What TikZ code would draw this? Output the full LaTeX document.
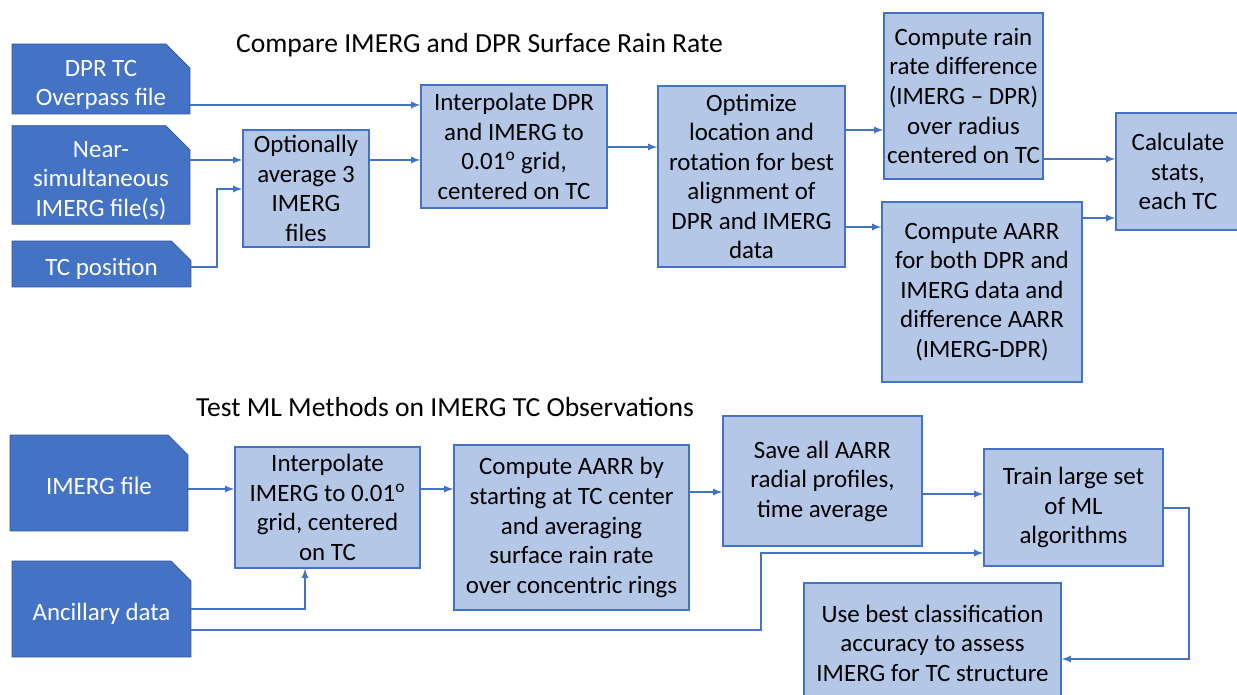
\documentclass[tikz,border=0pt]{standalone}
\usepackage{fontspec}
\setmainfont{Carlito}
\usetikzlibrary{shapes.misc}
\definecolor{4472c4}{HTML}{4472C4}
\definecolor{b4c7e7}{HTML}{B4C7E7}
\definecolor{2f5597}{HTML}{2F5597}
\newcommand{\dego}{\textsuperscript{o}}
\newcommand{\filelabel}[1]{\raisebox{-.12cm}[\dimexpr\height-4pt][\dimexpr\depth-4pt]{\begin{tabular}{@{}c@{}}#1\end{tabular}}}

\begin{document}
\begin{tikzpicture}[>=latex,x=0.02cm,y=-0.02cm,
    file/.style={chamfered rectangle,chamfered rectangle corners=north east,chamfered rectangle xsep=0.24cm,chamfered rectangle ysep=0.24cm,fill=4472c4,draw=2f5597,line width=.4pt,text=white,inner sep=0,font=\fontsize{14.2}{16.8}\selectfont},
    stepbox/.style={rectangle,fill=b4c7e7,draw=4472c4,line width=.8pt,inner sep=0,align=center,font=\fontsize{14.2}{16.8}\selectfont},
    title/.style={font=\fontsize{15.7}{18}\selectfont,inner sep=0},
    link/.style={->,4472c4,line width=.8pt}]
    \useasboundingbox(0,0)rectangle(1237,695);
    \clip(0,0)rectangle(1237,695);
    % compare IMERG and DPR
    \node[title](t1)at(479.5,45){Compare IMERG and DPR Surface Rain Rate};
    \node[file,minimum width=3.56cm,minimum height=1.4cm](dpr)at(101,79){\filelabel{DPR TC\\Overpass file}};
    \node[file,minimum width=3.56cm,minimum height=1.92cm](near)at(101,175){\filelabel{Near-\\simultaneous\\IMERG file(s)}};
    \node[file,minimum width=3.58cm,minimum height=.92cm](tcpos)at(101.5,264){\filelabel{TC position}};
    \node[stepbox,minimum width=2.52cm,minimum height=2.34cm](avg)at(306,188.5){Optionally\\average 3\\IMERG\\files};
    \node[stepbox,minimum width=3.72cm,minimum height=2.46cm](interp)at(514,146.5){Interpolate DPR\\and IMERG to\\0.01\dego{} grid,\\centered on TC};
    \node[stepbox,minimum width=3.74cm,minimum height=3.62cm](optim)at(751.5,176.5){Optimize\\location and\\rotation for best\\alignment of\\DPR and IMERG\\data};
    \node[stepbox,minimum width=3.18cm,minimum height=3.32cm](diff)at(963.5,96){Compute rain\\rate difference\\(IMERG -- DPR)\\over radius\\centered on TC};
    \node[stepbox,minimum width=4cm,minimum height=3.6cm](aarr)at(982,292){Compute AARR\\for both DPR and\\IMERG data and\\difference AARR\\(IMERG-DPR)};
    \node[stepbox,minimum width=2.48cm,minimum height=2.34cm](stats)at(1178,171.5){Calculate\\stats,\\each TC};
    \draw[link](dpr.east|-0,105)--(interp.west|-0,105);
    \draw[link](near.east|-0,160)--(avg.west|-0,160);
    \draw[link](tcpos.east|-0,267)-|(217,189)--(avg.west|-0,189);
    \draw[link](avg.east|-0,160)--(interp.west|-0,160);
    \draw[link](interp.east|-0,147)--(optim.west|-0,147);
    \draw[link](optim.east|-0,130)--(diff.west|-0,130);
    \draw[link](optim.east|-0,227)--(aarr.west|-0,227);
    \draw[link](diff.east|-0,159)--(stats.west|-0,159);
    \draw[link](aarr.east|-0,218)--(stats.west|-0,218);
    % test ML methods
    \node[title](t2)at(445,407){Test ML Methods on IMERG TC Observations};
    \node[file,minimum width=3.56cm,minimum height=1.92cm](imfile)at(99,483){\filelabel{IMERG file}};
    \node[file,minimum width=3.58cm,minimum height=1.92cm](anc)at(101.5,609){\filelabel{Ancillary data}};
    \node[stepbox,minimum width=3.7cm,minimum height=2.42cm](interpb)at(327.5,507.5){Interpolate\\IMERG to 0.01\dego\\grid, centered\\on TC};
    \node[stepbox,minimum width=4.7cm,minimum height=3.3cm](comp)at(571.5,527.5){Compute AARR by\\starting at TC center\\and averaging\\surface rain rate\\over concentric rings};
    \node[stepbox,minimum width=3.98cm,minimum height=2.6cm](save)at(822.5,481){Save all AARR\\radial profiles,\\time average};
    \node[stepbox,minimum width=3.58cm,minimum height=2.34cm](train)at(1073.5,507.5){Train large set\\of ML\\algorithms};
    \node[stepbox,minimum width=5.14cm,minimum height=2.4cm](use)at(932.5,643){Use best classification\\accuracy to assess\\IMERG for TC structure};
    \draw[link](imfile.east|-0,489)--(interpb.west|-0,489);
    \draw[link](anc.east|-0,609)-|(interpb.south-|305,0);
    \draw[link](interpb.east|-0,489)--(comp.west|-0,489);
    \draw[link](comp.east|-0,492)--(save.west|-0,492);
    \draw[link](save.east|-0,494)--(train.west|-0,494);
    \draw[link](anc.east|-0,630)-|(761,553)--(train.west|-0,553);
    \draw[link](train.east|-0,508)-|(1189,659)--(use.east|-0,659);
\end{tikzpicture}
\end{document}
